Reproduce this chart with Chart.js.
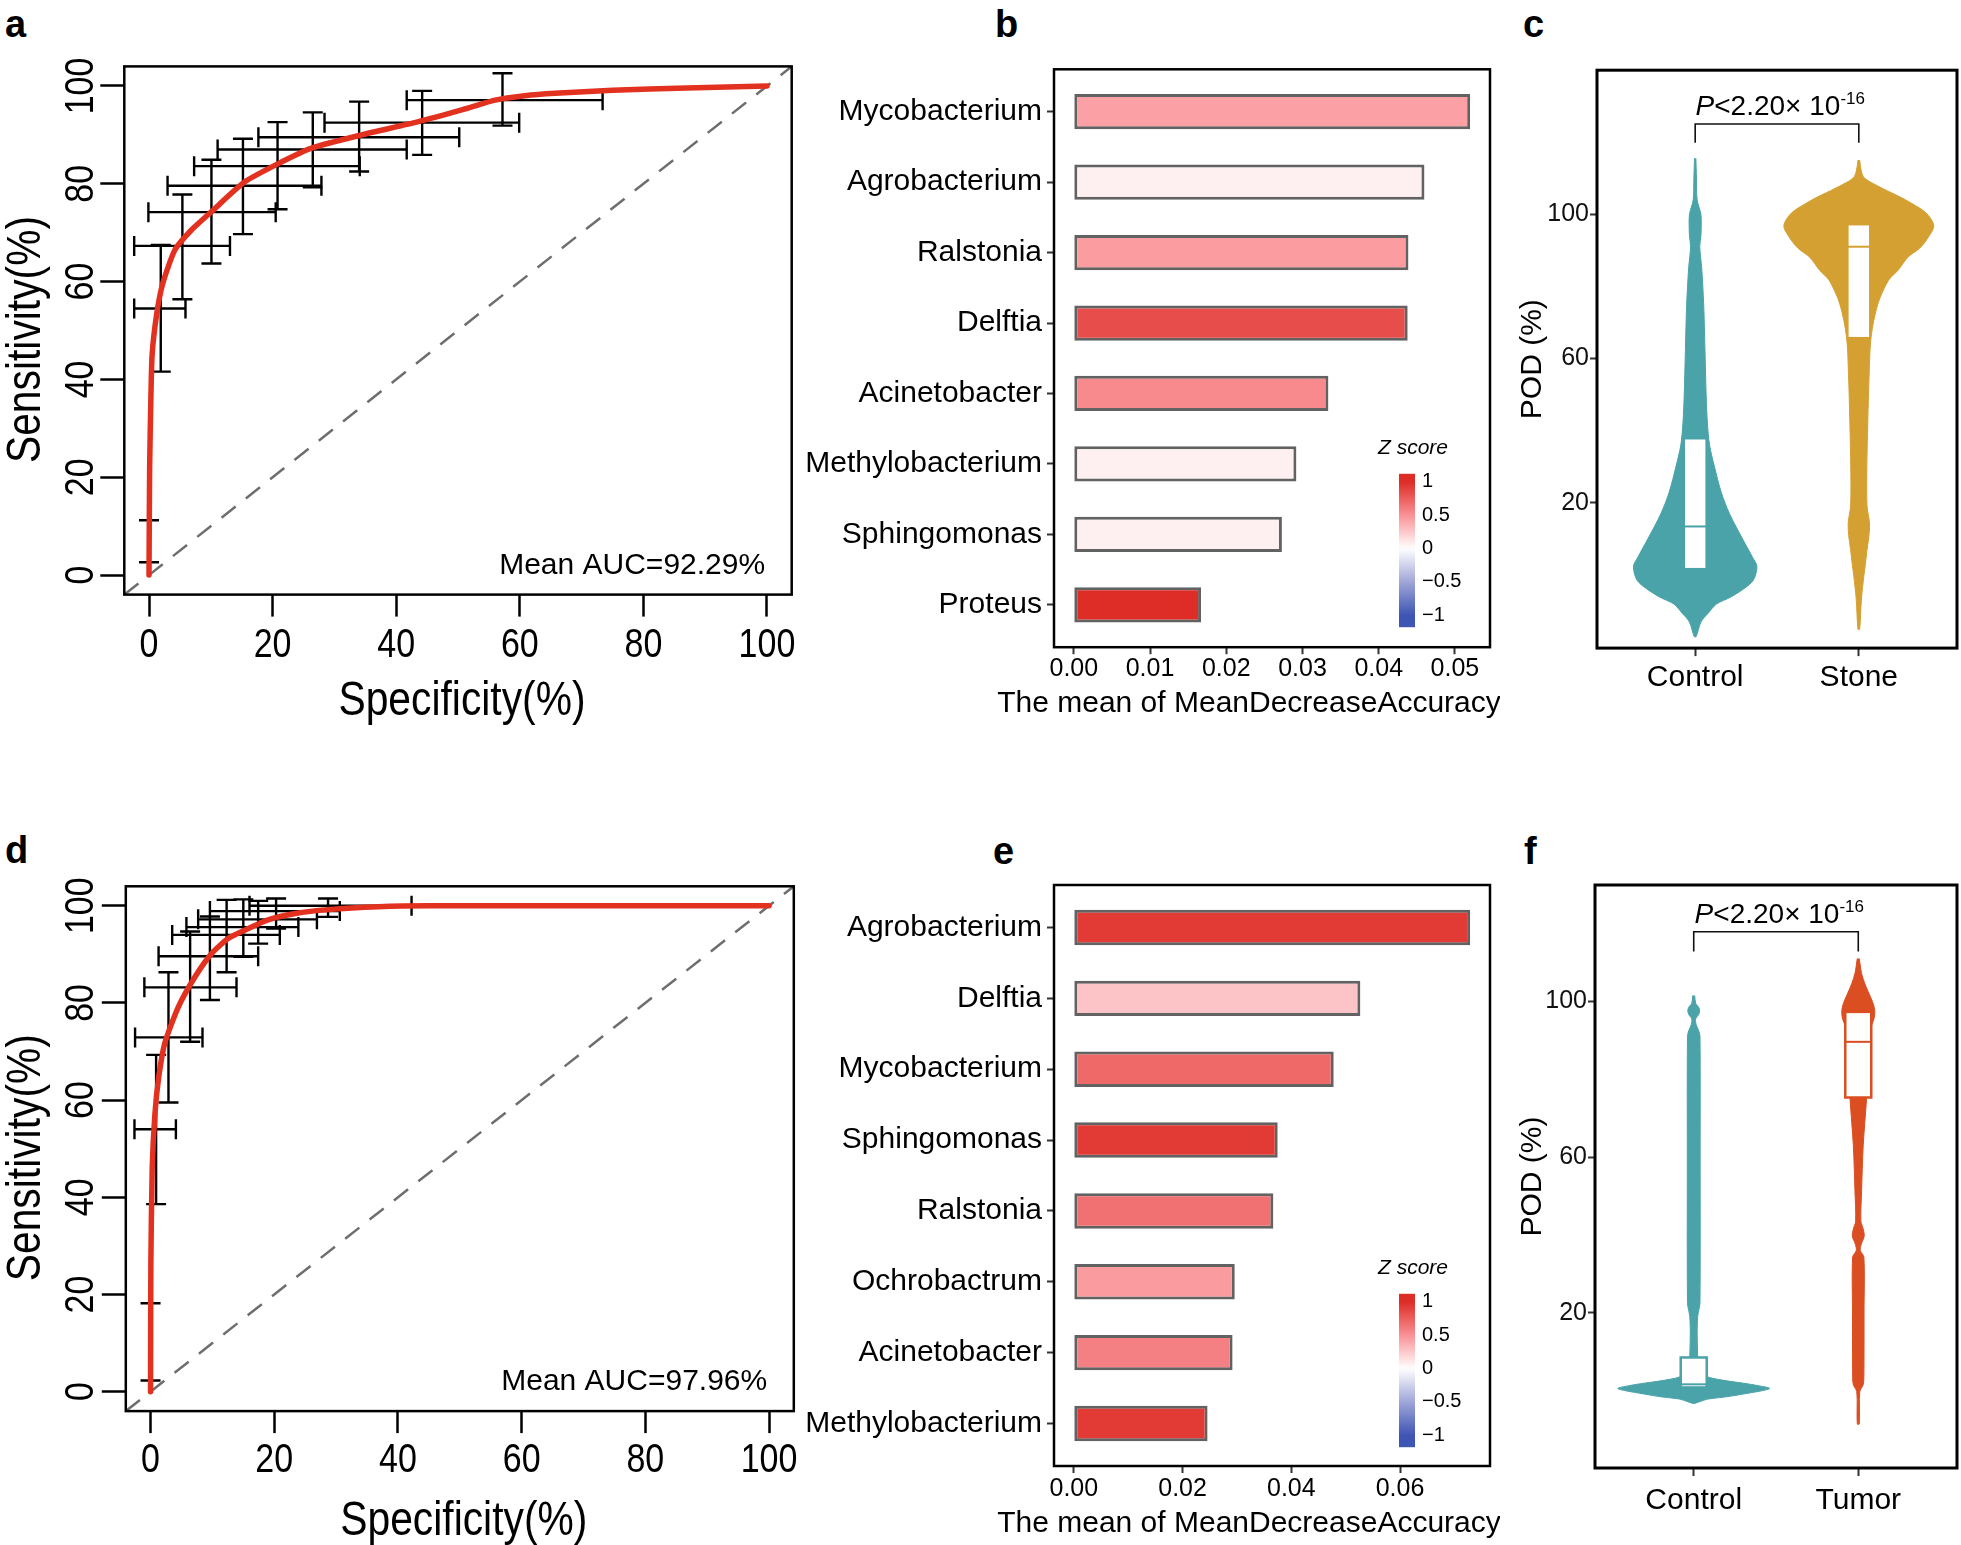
<!DOCTYPE html>
<html lang="en">
<head>
<meta charset="UTF-8">
<title>ROC, feature importance and POD panels</title>
<script src="https://cdn.jsdelivr.net/npm/chart.js"></script>
<style>
  html, body { margin: 0; padding: 0; background: #fff; }
  body { position: relative; width: 1961px; height: 1545px; overflow: hidden; font-family: 'Liberation Sans', Arial, sans-serif; }
  .panel { position: absolute; }
  .tag { position: absolute; font-weight: bold; font-size: 38px; line-height: 38px; color: #000; }
</style>
</head>
<body>
<div class="tag" style="left:5px;top:5px">a</div>
<div class="tag" style="left:995px;top:5px">b</div>
<div class="tag" style="left:1523px;top:5px">c</div>
<div class="tag" style="left:5px;top:831px">d</div>
<div class="tag" style="left:993px;top:832px">e</div>
<div class="tag" style="left:1524px;top:832px">f</div>

<div class="panel" style="left:0;top:0;width:800px;height:760px"><canvas id="rocA"></canvas></div>
<div class="panel" style="left:800px;top:0;width:700px;height:740px"><canvas id="barB"></canvas></div>
<div class="panel" style="left:1500px;top:0;width:461px;height:740px"><canvas id="violinC"></canvas></div>
<div class="panel" style="left:0;top:820px;width:800px;height:725px"><canvas id="rocD"></canvas></div>
<div class="panel" style="left:800px;top:820px;width:700px;height:725px"><canvas id="barE"></canvas></div>
<div class="panel" style="left:1500px;top:820px;width:461px;height:725px"><canvas id="violinF"></canvas></div>

<script>
// ---------- values ----------
const rocTicks = [0, 20, 40, 60, 80, 100];

// panel a: mean ROC curve
const rocA_x = [0, 0.1, 0.3, 0.5, 1.2, 2.2, 4.2, 6.9, 10.1, 15.5, 21.5, 26.3, 34.4, 43.6, 50.6, 56.0, 60.8, 65.7, 75, 87, 100];
const rocA_y = [0, 22, 36, 45, 53, 59.5, 66.5, 70.6, 74.3, 80.4, 84.5, 87.3, 90.0, 92.7, 95.1, 97.1, 98.0, 98.5, 99.1, 99.6, 100];
// sensitivity CI bars (vertical)
const ciA_seX  = [0, 1.9, 5.4, 10.1, 15.2, 20.8, 26.5, 34.0, 44.2, 57.2];
const ciA_seLo = [2.6, 41.6, 56.4, 63.7, 69.7, 74.8, 79.3, 82.5, 85.9, 91.9];
const ciA_seHi = [11.2, 67.5, 77.8, 84.9, 89.2, 92.6, 94.6, 96.8, 99.0, 102.6];
// specificity CI bars (horizontal)
const ciA_spY  = [54.5, 67.3, 74.2, 79.6, 83.6, 87.0, 89.5, 92.5, 97.1];
const ciA_spLo = [-2.4, -2.4, -0.1, 3.0, 7.3, 11.1, 17.7, 28.4, 41.7];
const ciA_spHi = [5.9, 13.1, 20.5, 27.9, 34.1, 41.7, 50.2, 59.9, 73.4];
const aucA = 'Mean AUC=92.29%';

// panel d
const rocD_x = [0, 0.05, 0.27, 0.7, 1.3, 2.3, 4.5, 7.2, 9.9, 12.6, 15.3, 19.0, 23.4, 28.7, 36.8, 45, 100];
const rocD_y = [0, 26, 46, 57, 64.5, 71.7, 79.2, 85.4, 90.2, 93.3, 95.0, 97.1, 98.4, 99.2, 99.8, 100, 100];
const ciD_seX  = [0, 0.9, 2.9, 6.4, 9.6, 12.3, 15.0, 17.4, 20.3, 28.7];
const ciD_seLo = [2.3, 38.6, 59.5, 72.0, 80.6, 86.3, 89.5, 92.2, 95.3, 97.7];
const ciD_seHi = [18.2, 69.3, 86.3, 94.7, 97.8, 101.2, 101.3, 101.0, 101.5, 101.5];
const ciD_spY  = [54.0, 72.9, 83.2, 89.6, 94.0, 95.6, 97.2, 98.9, 100];
const ciD_spLo = [-2.6, -2.5, -1.0, 1.3, 3.5, 5.8, 7.7, 9.6, 16];
const ciD_spHi = [4.1, 8.4, 13.9, 17.4, 20.9, 23.9, 26.9, 30.6, 42.2];
const aucD = 'Mean AUC=97.96%';

// panel b: importance bars
const genusB = ['Mycobacterium', 'Agrobacterium', 'Ralstonia', 'Delftia', 'Acinetobacter', 'Methylobacterium', 'Sphingomonas', 'Proteus'];
const mdaB   = [0.0520, 0.0460, 0.0439, 0.0438, 0.0334, 0.0292, 0.0273, 0.0167];
const zB     = [0.43, 0.07, 0.45, 0.835, 0.535, 0.07, 0.07, 1.0];
const ticksB = [0, 0.01, 0.02, 0.03, 0.04, 0.05];

// panel e
const genusE = ['Agrobacterium', 'Delftia', 'Mycobacterium', 'Sphingomonas', 'Ralstonia', 'Ochrobactrum', 'Acinetobacter', 'Methylobacterium'];
const mdaE   = [0.0729, 0.0527, 0.0478, 0.0375, 0.0367, 0.0296, 0.0292, 0.0246];
const zE     = [0.935, 0.27, 0.7, 0.935, 0.665, 0.455, 0.585, 0.935];
const ticksE = [0, 0.02, 0.04, 0.06];

const zLegendTicks = [1, 0.5, 0, -0.5, -1];

// panels c / f: violins (value, half width in group units) and box stats
const podTicks = [20, 60, 100];
const groupsC = ['Control', 'Stone'];
const cCtrlVal  = [115.5, 110, 104, 100, 97, 94, 91, 85, 75, 62, 50, 42, 36, 30, 23, 17, 10, 5, 2.5, -1, -3, -6, -8, -10.5, -13, -17];
const cCtrlHalf = [0.004, 0.008, 0.012, 0.035, 0.037, 0.035, 0.028, 0.04, 0.052, 0.06, 0.067, 0.075, 0.088, 0.118, 0.159, 0.21, 0.29, 0.35, 0.377, 0.36, 0.32, 0.22, 0.13, 0.08, 0.035, 0.006];
const cStoneVal  = [115, 112, 110, 107.5, 105.5, 103.6, 100.4, 96.8, 93.3, 90.5, 88.1, 84.5, 81.6, 75.1, 66, 55.6, 42.7, 29.7, 19.3, 14.5, 11, 7, 3, -0.1, -6.6, -15];
const cStoneHalf = [0.005, 0.015, 0.035, 0.13, 0.22, 0.3, 0.41, 0.458, 0.42, 0.37, 0.3, 0.24, 0.18, 0.116, 0.075, 0.063, 0.055, 0.049, 0.05, 0.065, 0.062, 0.05, 0.04, 0.031, 0.016, 0.005];
const cQ1  = [1.8, 65.8];
const cMed = [13.5, 91.0];
const cQ3  = [37.8, 97.1];

const groupsF = ['Control', 'Tumor'];
const fCtrlVal  = [101.5, 99.5, 98.5, 97.6, 96.6, 95.5, 94, 92.5, 91, 60, 22.4, 20.5, 19, 15, 9, 5, 3.5, 2.5, 1.9, 1.2, 0.56, 0, -0.9, -1.6, -2.2, -2.8, -3.3];
const fCtrlHalf = [0.006, 0.012, 0.03, 0.036, 0.03, 0.012, 0.015, 0.03, 0.038, 0.039, 0.038, 0.03, 0.024, 0.021, 0.024, 0.03, 0.085, 0.2, 0.3, 0.4, 0.462, 0.42, 0.3, 0.2, 0.085, 0.04, 0.006];
const fTumVal  = [111, 107.2, 104.5, 102.4, 99.4, 97.6, 95.8, 93.4, 84.5, 74.9, 63, 51.1, 43.5, 41.5, 39.7, 37.6, 36, 34.3, 20, 3.3, 1.5, -0.3, -8.6];
const fTumHalf = [0.006, 0.02, 0.04, 0.061, 0.091, 0.1, 0.097, 0.079, 0.061, 0.05, 0.03, 0.02, 0.016, 0.03, 0.036, 0.018, 0.012, 0.034, 0.035, 0.034, 0.03, 0.009, 0.006];
const fQ1  = [0.8, 75.3];
const fMed = [1.6, 89.6];
const fQ3  = [8.5, 97.3];

// ---------- styling ----------
const FONT = "'Liberation Sans', Arial, sans-serif";
const CONDENSE = 0.85;   // base-R panels use a narrow face
Chart.defaults.font.family = FONT;
Chart.defaults.color = '#000';
Chart.defaults.animation = false;
Chart.defaults.plugins.legend.display = false;
Chart.defaults.plugins.tooltip.enabled = false;

const zStops = [
  [-1, [63, 85, 180]], [-0.5, [160, 166, 216]], [0, [255, 255, 255]],
  [0.5, [250, 145, 150]], [1, [222, 45, 38]]
];
function zColor(z) {
  z = Math.max(-1, Math.min(1, z));
  for (let i = 1; i < zStops.length; i++) {
    const [z0, c0] = zStops[i - 1];
    const [z1, c1] = zStops[i];
    if (z <= z1) {
      const t = (z - z0) / (z1 - z0);
      return 'rgb(' + c0.map((c, k) => Math.round(c + (c1[k] - c) * t)).join(',') + ')';
    }
  }
}

function frame(chart, w) {
  const { ctx, chartArea: a } = chart;
  ctx.save();
  ctx.strokeStyle = '#000';
  ctx.lineWidth = w;
  ctx.strokeRect(a.left, a.top, a.right - a.left, a.bottom - a.top);
  ctx.restore();
}

// narrow text: horizontal squeeze, optional rotation
function narrowText(ctx, text, x, y, size, rot) {
  ctx.save();
  ctx.translate(x, y);
  if (rot) ctx.rotate(rot);
  ctx.scale(CONDENSE, 1);
  ctx.font = size + 'px ' + FONT;
  ctx.textAlign = 'center';
  ctx.textBaseline = 'middle';
  ctx.fillText(text, 0, 0);
  ctx.restore();
}

// ---------- ROC panels ----------
function rocPlugin(cfg) {
  return {
    id: 'rocExtras',
    beforeDatasetsDraw(chart) {
      const { ctx, chartArea: a, scales: { x, y } } = chart;
      ctx.save();
      ctx.beginPath();
      ctx.rect(a.left, a.top, a.right - a.left, a.bottom - a.top);
      ctx.clip();
      // chance line
      ctx.setLineDash([18, 13]);
      ctx.strokeStyle = '#6e6e6e';
      ctx.lineWidth = 2.5;
      ctx.beginPath();
      ctx.moveTo(x.getPixelForValue(x.min), y.getPixelForValue(y.min));
      ctx.lineTo(x.getPixelForValue(x.max), y.getPixelForValue(y.max));
      ctx.stroke();
      ctx.restore();

      ctx.save();
      ctx.strokeStyle = '#000';
      ctx.lineWidth = 2.4;
      const cap = 10;
      ctx.beginPath();
      cfg.seX.forEach((v, i) => {
        const px = x.getPixelForValue(v);
        const lo = y.getPixelForValue(cfg.seLo[i]), hi = y.getPixelForValue(cfg.seHi[i]);
        ctx.moveTo(px, lo); ctx.lineTo(px, hi);
        ctx.moveTo(px - cap, lo); ctx.lineTo(px + cap, lo);
        ctx.moveTo(px - cap, hi); ctx.lineTo(px + cap, hi);
      });
      cfg.spY.forEach((v, i) => {
        const py = y.getPixelForValue(v);
        const lo = x.getPixelForValue(cfg.spLo[i]), hi = x.getPixelForValue(cfg.spHi[i]);
        ctx.moveTo(lo, py); ctx.lineTo(hi, py);
        ctx.moveTo(lo, py - cap); ctx.lineTo(lo, py + cap);
        ctx.moveTo(hi, py - cap); ctx.lineTo(hi, py + cap);
      });
      ctx.stroke();
      ctx.restore();
    },
    afterDraw(chart) {
      const { ctx, chartArea: a, scales: { x, y } } = chart;
      frame(chart, 2.5);
      ctx.save();
      ctx.fillStyle = '#000';
      rocTicks.forEach(v => {
        narrowText(ctx, String(v), 82, y.getPixelForValue(v), 40, -Math.PI / 2);
        narrowText(ctx, String(v), x.getPixelForValue(v), a.bottom + cfg.labelDy, 40, 0);
      });
      narrowText(ctx, 'Specificity(%)', (a.left + a.right) / 2 + 4, a.bottom + cfg.titleDy, 48, 0);
      narrowText(ctx, 'Sensitivity(%)', 27, (a.top + a.bottom) / 2 + 9, 48, -Math.PI / 2);
      ctx.font = '30px ' + FONT;
      ctx.textAlign = 'right';
      ctx.textBaseline = 'middle';
      ctx.fillText(cfg.auc, x.getPixelForValue(99.7), y.getPixelForValue(2.0));
      ctx.restore();
    }
  };
}

function rocChart(id, cfg) {
  return new Chart(document.getElementById(id), {
    type: 'scatter',
    data: {
      datasets: [{
        data: cfg.curveX.map((v, i) => ({ x: v, y: cfg.curveY[i] })),
        showLine: true, borderColor: '#E3311F', borderWidth: 5.5, pointRadius: 0,
        tension: 0.2, borderCapStyle: 'round', borderJoinStyle: 'round'
      }]
    },
    options: {
      responsive: true, maintainAspectRatio: false, events: [],
      layout: { padding: { left: 0, top: cfg.top, right: cfg.right, bottom: 0 } },
      scales: {
        x: {
          type: 'linear', min: -4, max: 104,
          afterBuildTicks: s => { s.ticks = rocTicks.map(v => ({ value: v })); },
          afterFit: s => { s.height = cfg.xHeight; },
          border: { display: false },
          grid: { drawOnChartArea: false, drawTicks: true, tickLength: 22, tickWidth: 2.5, tickColor: '#000' },
          ticks: { display: false }
        },
        y: {
          type: 'linear', min: -4, max: 104,
          afterBuildTicks: s => { s.ticks = rocTicks.map(v => ({ value: v })); },
          afterFit: s => { s.width = cfg.left; },
          border: { display: false },
          grid: { drawOnChartArea: false, drawTicks: true, tickLength: 24, tickWidth: 2.5, tickColor: '#000' },
          ticks: { display: false }
        }
      }
    },
    plugins: [rocPlugin(cfg)]
  });
}

// ---------- importance bar panels ----------
function zLegendPlugin() {
  return {
    id: 'zLegend',
    afterDraw(chart) {
      const { ctx } = chart;
      const x0 = 599, w = 16, zeroY = 548.5, unit = 66.7, zTop = 1.12, zBot = -1.18;
      const top = zeroY - zTop * unit, bot = zeroY - zBot * unit;
      ctx.save();
      const g = ctx.createLinearGradient(0, top, 0, bot);
      for (let k = 0; k <= 40; k++) {
        g.addColorStop(k / 40, zColor(zTop + (zBot - zTop) * k / 40));
      }
      ctx.fillStyle = g;
      ctx.fillRect(x0, top, w, bot - top);
      ctx.fillStyle = '#000';
      ctx.font = '20px ' + FONT;
      ctx.textAlign = 'left';
      ctx.textBaseline = 'middle';
      zLegendTicks.forEach(v => {
        ctx.fillText(v < 0 ? '\u2212' + Math.abs(v) : String(v), x0 + w + 7, zeroY - v * unit);
      });
      ctx.font = 'italic 21px ' + FONT;
      ctx.textAlign = 'center';
      ctx.fillText('Z score', 613, 448);
      // axis title (wider than the panel, so drawn here without squeezing)
      ctx.font = '30px ' + FONT;
      ctx.fillText('The mean of MeanDecreaseAccuracy', 449, 704);
      ctx.restore();
    }
  };
}

function barChart(id, cfg) {
  const n = cfg.genus.length;
  const top = Math.max(...cfg.mda);
  return new Chart(document.getElementById(id), {
    type: 'bar',
    data: {
      datasets: [{
        data: cfg.mda.map((v, i) => ({ x: v, y: i + 1 })),
        backgroundColor: cfg.z.map(zColor),
        borderColor: '#626262', borderWidth: 3, borderSkipped: false,
        categoryPercentage: 1, barPercentage: 0.5
      }]
    },
    options: {
      indexAxis: 'y',
      responsive: true, maintainAspectRatio: false, events: [],
      layout: { padding: { left: 0, top: cfg.top, right: 10, bottom: 0 } },
      scales: {
        x: {
          type: 'linear', min: -0.05 * top, max: 1.05 * top,
          afterBuildTicks: s => { s.ticks = cfg.ticks.map(v => ({ value: v })); },
          afterFit: s => { s.height = cfg.xHeight; },
          border: { display: false },
          grid: { drawOnChartArea: false, tickLength: 7, tickWidth: 2, tickColor: '#333' },
          ticks: { color: '#000', font: { size: 25 }, padding: cfg.tickPad, maxRotation: 0, autoSkip: false, callback: v => v.toFixed(2) }
        },
        y: {
          type: 'linear', reverse: true, min: 0.4, max: n + 0.6, offset: false,
          afterBuildTicks: s => { s.ticks = cfg.genus.map((g, i) => ({ value: i + 1 })); },
          afterFit: s => { s.width = 254; },
          border: { display: false },
          grid: { offset: false, drawOnChartArea: false, tickLength: 7, tickWidth: 2, tickColor: '#333' },
          ticks: { color: '#000', font: { size: 30 }, padding: 5, autoSkip: false, callback: v => cfg.genus[v - 1] }
        }
      }
    },
    plugins: [zLegendPlugin(), { id: 'barFrame', afterDraw: c => frame(c, 2.5) }]
  });
}

// ---------- violin panels ----------
function violinOutline(center, vals, halves) {
  const left = vals.map((v, i) => ({ x: center - halves[i], y: v }));
  const right = vals.map((v, i) => ({ x: center + halves[i], y: v })).reverse();
  return left.concat(right);
}

function violinPlugin(cfg) {
  return {
    id: 'violinExtras',
    afterDatasetsDraw(chart) {
      const { ctx, scales: { x, y } } = chart;
      const bw = x.getPixelForValue(1 + cfg.boxHalf) - x.getPixelForValue(1);
      ctx.save();
      cfg.q1.forEach((q, i) => {
        const cx = x.getPixelForValue(i + 1);
        const yt = y.getPixelForValue(cfg.q3[i]), yb = y.getPixelForValue(q), ym = y.getPixelForValue(cfg.med[i]);
        ctx.fillStyle = '#fff';
        ctx.fillRect(cx - bw, yt, 2 * bw, yb - yt);
        ctx.strokeStyle = cfg.colors[i];
        ctx.lineWidth = cfg.boxLine;
        ctx.strokeRect(cx - bw, yt, 2 * bw, yb - yt);
        ctx.lineWidth = 2;
        ctx.beginPath();
        ctx.moveTo(cx - bw, ym); ctx.lineTo(cx + bw, ym);
        ctx.stroke();
      });
      // significance bracket
      const x1 = x.getPixelForValue(1), x2 = x.getPixelForValue(2);
      const yb = y.getPixelForValue(cfg.bracket), yl = y.getPixelForValue(cfg.bracketLeg);
      ctx.strokeStyle = '#111';
      ctx.lineWidth = 1.6;
      ctx.beginPath();
      ctx.moveTo(x1, yl); ctx.lineTo(x1, yb); ctx.lineTo(x2, yb); ctx.lineTo(x2, yl);
      ctx.stroke();
      // P<2.20x10^-16
      const main = 28, sup = 17;
      ctx.fillStyle = '#000';
      ctx.textBaseline = 'alphabetic';
      ctx.textAlign = 'left';
      ctx.font = 'italic ' + main + 'px ' + FONT;
      const wP = ctx.measureText('P').width;
      ctx.font = main + 'px ' + FONT;
      const body = '<2.20\u00d7 10';
      const wB = ctx.measureText(body).width;
      ctx.font = sup + 'px ' + FONT;
      const wS = ctx.measureText('-16').width;
      let tx = x.getPixelForValue(1.52) - (wP + wB + wS) / 2;
      const base = y.getPixelForValue(cfg.pBase);
      ctx.font = 'italic ' + main + 'px ' + FONT;
      ctx.fillText('P', tx, base); tx += wP;
      ctx.font = main + 'px ' + FONT;
      ctx.fillText(body, tx, base); tx += wB;
      ctx.font = sup + 'px ' + FONT;
      ctx.fillText('-16', tx, base - 11);
      ctx.restore();
    },
    afterDraw: c => frame(c, 3)
  };
}

function violinChart(id, cfg) {
  const datasets = cfg.groups.map((g, i) => ({
    data: violinOutline(i + 1, cfg.vals[i], cfg.halves[i]),
    showLine: true, fill: 'shape', backgroundColor: cfg.colors[i], borderColor: cfg.colors[i],
    borderWidth: 1, pointRadius: 0, tension: 0.3
  }));
  return new Chart(document.getElementById(id), {
    type: 'scatter',
    data: { datasets },
    options: {
      responsive: true, maintainAspectRatio: false, events: [],
      layout: { padding: { left: 0, top: cfg.top, right: 4, bottom: 0 } },
      scales: {
        x: {
          type: 'linear', min: 0.4, max: cfg.groups.length + 0.6,
          afterBuildTicks: s => { s.ticks = cfg.groups.map((g, i) => ({ value: i + 1 })); },
          afterFit: s => { s.height = cfg.xHeight; },
          border: { display: false },
          grid: { drawOnChartArea: false, tickLength: 8, tickWidth: 2, tickColor: '#333' },
          ticks: { color: '#000', font: { size: 30 }, padding: cfg.tickPad, maxRotation: 0, autoSkip: false, callback: v => cfg.groups[v - 1] }
        },
        y: {
          type: 'linear', min: cfg.ymin, max: cfg.ymax,
          afterBuildTicks: s => { s.ticks = podTicks.map(v => ({ value: v })); },
          afterFit: s => { s.width = cfg.left; },
          border: { display: false },
          grid: { drawOnChartArea: false, tickLength: 7, tickWidth: 2, tickColor: '#333' },
          ticks: { color: '#111', font: { size: 25 }, padding: 1 },
          title: { display: true, text: 'POD (%)', color: '#000', font: { size: 30, lineHeight: 1 }, padding: { top: 18, bottom: 0 } }
        }
      }
    },
    plugins: [violinPlugin(cfg)]
  });
}

// ---------- build ----------
rocChart('rocA', {
  curveX: rocA_x, curveY: rocA_y,
  seX: ciA_seX, seLo: ciA_seLo, seHi: ciA_seHi,
  spY: ciA_spY, spLo: ciA_spLo, spHi: ciA_spHi, auc: aucA,
  top: 66.4, right: 8.3, left: 124.3, xHeight: 165.4, labelDy: 51.4, titleDy: 107.4
});
rocChart('rocD', {
  curveX: rocD_x, curveY: rocD_y,
  seX: ciD_seX, seLo: ciD_seLo, seHi: ciD_seHi,
  spY: ciD_spY, spLo: ciD_spLo, spHi: ciD_spHi, auc: aucD,
  top: 66.3, right: 6.2, left: 125.8, xHeight: 133.9, labelDy: 49.9, titleDy: 110.6
});

barChart('barB', { genus: genusB, mda: mdaB, z: zB, ticks: ticksB, top: 69.3, xHeight: 92.8, tickPad: 0 });
barChart('barE', { genus: genusE, mda: mdaE, z: zE, ticks: ticksE, top: 65, xHeight: 79, tickPad: 1 });

violinChart('violinC', {
  groups: groupsC, vals: [cCtrlVal, cStoneVal], halves: [cCtrlHalf, cStoneHalf],
  colors: ['#49A3A8', '#D4A032'], q1: cQ1, med: cMed, q3: cQ3,
  boxHalf: 0.067, boxLine: 1.5, ymin: -20.2, ymax: 139.9,
  bracket: 125.0, bracketLeg: 119.8, pBase: 127.6,
  top: 70.2, left: 97, xHeight: 91.9, tickPad: 4
});
violinChart('violinF', {
  groups: groupsF, vals: [fCtrlVal, fTumVal], halves: [fCtrlHalf, fTumHalf],
  colors: ['#49A3A8', '#DA4E22'], q1: fQ1, med: fMed, q3: fQ3,
  boxHalf: 0.079, boxLine: 2.5, ymin: -19.9, ymax: 129.9,
  bracket: 117.9, bracketLeg: 112.8, pBase: 120.1,
  top: 65, left: 95, xHeight: 77, tickPad: 7
});
</script>
</body>
</html>
